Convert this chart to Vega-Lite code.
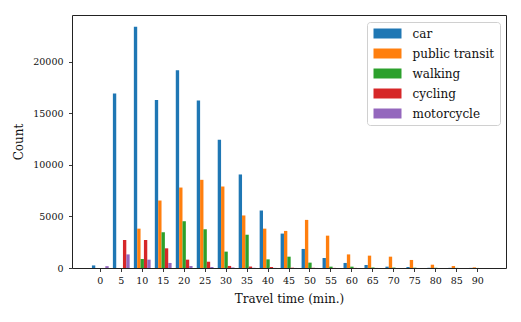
{
  "$schema": "https://vega.github.io/schema/vega-lite/v6.json",
  "width": 434,
  "height": 253,
  "autosize": {"type": "none"},
  "padding": {"left": 72, "top": 15, "right": 15, "bottom": 54},
  "background": "white",
  "config": {
    "font": "DejaVu Serif",
    "view": {"stroke": "#222222", "strokeWidth": 1},
    "axis": {"grid": false, "domain": false, "tickColor": "#222222", "tickSize": 3.5, "tickWidth": 0.9,
             "labelFont": "DejaVu Serif", "labelFontSize": 9.5, "labelColor": "#111111",
             "titleFont": "DejaVu Serif", "titleFontSize": 12, "titleFontWeight": "normal", "titleColor": "#111111"}
  },
  "data": {"values": [
    {"t": 0, "mode": "car", "count": 250}, {"t": 0, "mode": "public transit", "count": 0}, {"t": 0, "mode": "walking", "count": 0}, {"t": 0, "mode": "cycling", "count": 0}, {"t": 0, "mode": "motorcycle", "count": 180},
    {"t": 5, "mode": "car", "count": 16930}, {"t": 5, "mode": "public transit", "count": 0}, {"t": 5, "mode": "walking", "count": 0}, {"t": 5, "mode": "cycling", "count": 2720}, {"t": 5, "mode": "motorcycle", "count": 1320},
    {"t": 10, "mode": "car", "count": 23410}, {"t": 10, "mode": "public transit", "count": 3820}, {"t": 10, "mode": "walking", "count": 870}, {"t": 10, "mode": "cycling", "count": 2720}, {"t": 10, "mode": "motorcycle", "count": 810},
    {"t": 15, "mode": "car", "count": 16310}, {"t": 15, "mode": "public transit", "count": 6550}, {"t": 15, "mode": "walking", "count": 3470}, {"t": 15, "mode": "cycling", "count": 1910}, {"t": 15, "mode": "motorcycle", "count": 490},
    {"t": 20, "mode": "car", "count": 19200}, {"t": 20, "mode": "public transit", "count": 7810}, {"t": 20, "mode": "walking", "count": 4540}, {"t": 20, "mode": "cycling", "count": 810}, {"t": 20, "mode": "motorcycle", "count": 190},
    {"t": 25, "mode": "car", "count": 16250}, {"t": 25, "mode": "public transit", "count": 8560}, {"t": 25, "mode": "walking", "count": 3760}, {"t": 25, "mode": "cycling", "count": 610}, {"t": 25, "mode": "motorcycle", "count": 100},
    {"t": 30, "mode": "car", "count": 12450}, {"t": 30, "mode": "public transit", "count": 7910}, {"t": 30, "mode": "walking", "count": 1590}, {"t": 30, "mode": "cycling", "count": 200}, {"t": 30, "mode": "motorcycle", "count": 50},
    {"t": 35, "mode": "car", "count": 9080}, {"t": 35, "mode": "public transit", "count": 5100}, {"t": 35, "mode": "walking", "count": 3230}, {"t": 35, "mode": "cycling", "count": 140}, {"t": 35, "mode": "motorcycle", "count": 20},
    {"t": 40, "mode": "car", "count": 5580}, {"t": 40, "mode": "public transit", "count": 3820}, {"t": 40, "mode": "walking", "count": 840}, {"t": 40, "mode": "cycling", "count": 100}, {"t": 40, "mode": "motorcycle", "count": 10},
    {"t": 45, "mode": "car", "count": 3340}, {"t": 45, "mode": "public transit", "count": 3600}, {"t": 45, "mode": "walking", "count": 1100}, {"t": 45, "mode": "cycling", "count": 30}, {"t": 45, "mode": "motorcycle", "count": 5},
    {"t": 50, "mode": "car", "count": 1850}, {"t": 50, "mode": "public transit", "count": 4670}, {"t": 50, "mode": "walking", "count": 520}, {"t": 50, "mode": "cycling", "count": 20}, {"t": 50, "mode": "motorcycle", "count": 5},
    {"t": 55, "mode": "car", "count": 970}, {"t": 55, "mode": "public transit", "count": 3140}, {"t": 55, "mode": "walking", "count": 130}, {"t": 55, "mode": "cycling", "count": 10}, {"t": 55, "mode": "motorcycle", "count": 0},
    {"t": 60, "mode": "car", "count": 490}, {"t": 60, "mode": "public transit", "count": 1320}, {"t": 60, "mode": "walking", "count": 130}, {"t": 60, "mode": "cycling", "count": 10}, {"t": 60, "mode": "motorcycle", "count": 0},
    {"t": 65, "mode": "car", "count": 290}, {"t": 65, "mode": "public transit", "count": 1200}, {"t": 65, "mode": "walking", "count": 50}, {"t": 65, "mode": "cycling", "count": 5}, {"t": 65, "mode": "motorcycle", "count": 0},
    {"t": 70, "mode": "car", "count": 130}, {"t": 70, "mode": "public transit", "count": 1100}, {"t": 70, "mode": "walking", "count": 40}, {"t": 70, "mode": "cycling", "count": 0}, {"t": 70, "mode": "motorcycle", "count": 0},
    {"t": 75, "mode": "car", "count": 100}, {"t": 75, "mode": "public transit", "count": 780}, {"t": 75, "mode": "walking", "count": 30}, {"t": 75, "mode": "cycling", "count": 0}, {"t": 75, "mode": "motorcycle", "count": 0},
    {"t": 80, "mode": "car", "count": 20}, {"t": 80, "mode": "public transit", "count": 320}, {"t": 80, "mode": "walking", "count": 20}, {"t": 80, "mode": "cycling", "count": 0}, {"t": 80, "mode": "motorcycle", "count": 0},
    {"t": 85, "mode": "car", "count": 15}, {"t": 85, "mode": "public transit", "count": 190}, {"t": 85, "mode": "walking", "count": 10}, {"t": 85, "mode": "cycling", "count": 0}, {"t": 85, "mode": "motorcycle", "count": 0},
    {"t": 90, "mode": "car", "count": 10}, {"t": 90, "mode": "public transit", "count": 60}, {"t": 90, "mode": "walking", "count": 5}, {"t": 90, "mode": "cycling", "count": 0}, {"t": 90, "mode": "motorcycle", "count": 0}
  ]},
  "mark": {"type": "bar"},
  "encoding": {
    "x": {"field": "t", "type": "ordinal",
          "scale": {"paddingInner": 0.2, "paddingOuter": 0.95},
          "axis": {"title": "Travel time (min.)", "labelAngle": 0, "labelPadding": 4, "titlePadding": 8}},
    "xOffset": {"field": "mode", "type": "nominal",
                "sort": ["car", "public transit", "walking", "cycling", "motorcycle"],
                "scale": {"paddingInner": 0, "paddingOuter": 0}},
    "y": {"field": "count", "type": "quantitative",
          "scale": {"domain": [0, 24560], "nice": false},
          "axis": {"title": "Count", "values": [0, 5000, 10000, 15000, 20000], "format": "d", "labelPadding": 5.5, "titlePadding": 7}},
    "color": {"field": "mode", "type": "nominal",
              "sort": ["car", "public transit", "walking", "cycling", "motorcycle"],
              "scale": {"domain": ["car", "public transit", "walking", "cycling", "motorcycle"],
                        "range": ["#1f77b4", "#ff7f0e", "#2ca02c", "#d62728", "#9467bd"]},
              "legend": {"title": null, "orient": "none", "legendX": 295, "legendY": 7,
                         "symbolType": "M-2.8,-1H2.8V1H-2.8Z", "symbolSize": 100, "symbolOffset": 9,
                         "symbolStrokeWidth": 0, "symbolOpacity": 1,
                         "labelFont": "DejaVu Serif", "labelFontSize": 12, "labelColor": "#111111", "labelOffset": 19,
                         "rowPadding": 8, "padding": 5.5, "strokeColor": "#d0d0d0", "fillColor": "rgba(255,255,255,0.8)",
                         "cornerRadius": 3}}
  }
}
